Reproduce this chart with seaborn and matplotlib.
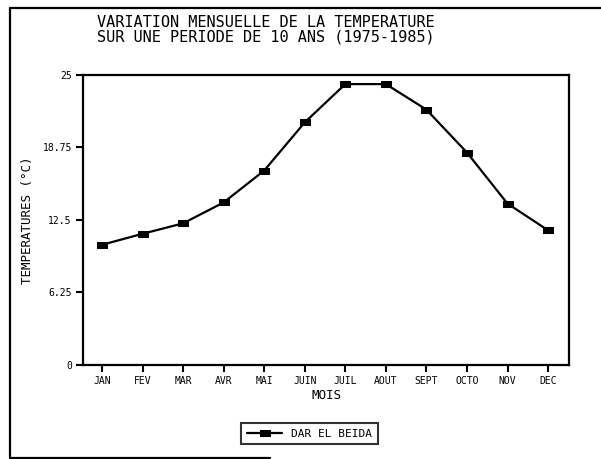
import numpy as np
import pandas as pd
import seaborn as sns
import matplotlib.pyplot as plt
from matplotlib.lines import Line2D

# Data
mois = ["JAN", "FEV", "MAR", "AVR", "MAI", "JUIN",
        "JUIL", "AOUT", "SEPT", "OCTO", "NOV", "DEC"]
temperatures = [10.35, 11.3, 12.2, 14.0, 16.75, 20.9,
                24.2, 24.2, 22.0, 18.3, 13.9, 11.6]
station = "DAR EL BEIDA"
y_ticks = [0, 6.25, 12.5, 18.75, 25]
y_labels = ["0", "6.25", "12.5", "18.75", "25"]

df = pd.DataFrame({"x": np.arange(len(mois)), "temp": temperatures,
                   "station": station})

sns.set_style("ticks")
plt.rcParams['font.family'] = ['DejaVu Sans Mono']
plt.rcParams['text.color'] = 'black'
plt.rcParams['axes.labelcolor'] = 'black'
plt.rcParams['xtick.color'] = 'black'
plt.rcParams['ytick.color'] = 'black'

fig = plt.figure(figsize=(6.01, 4.59), dpi=100)
ax = fig.add_axes([0.138, 0.205, 0.809, 0.632])

# flat rectangular marker like the printer's dots
rect_marker = [(-1, -0.55), (1, -0.55), (1, 0.55), (-1, 0.55), (-1, -0.55)]
sns.lineplot(data=df, x="x", y="temp", hue="station", palette=["black"],
             marker=rect_marker, markersize=7, linewidth=1.6,
             markeredgecolor="black", ax=ax)

ax.set_xlim(-0.47, 11.52)
ax.set_ylim(0, 25)
ax.set_xticks(range(len(mois)))
ax.set_xticklabels(mois, fontsize=7)
ax.set_yticks(y_ticks)
ax.set_yticklabels(y_labels, fontsize=7)
ax.tick_params(direction="out", length=5, width=1.5, pad=3)
for s in ax.spines.values():
    s.set_linewidth(1.6)
    s.set_color("black")

ax.set_xlabel("MOIS", fontsize=9, labelpad=2)
ax.set_ylabel("TEMPERATURES (°C)", fontsize=9, labelpad=6)

fig.text(0.443, 0.935, "VARIATION MENSUELLE DE LA TEMPERATURE\nSUR UNE PERIODE DE 10 ANS (1975-1985)",
         ha="center", va="center", fontsize=11, linespacing=0.95)

ax.legend(loc="center", bbox_to_anchor=(0.515, 0.055),
          bbox_transform=fig.transFigure, frameon=True, fancybox=False,
          edgecolor="black", fontsize=8, handlelength=3.2,
          borderpad=0.5, markerscale=1.0)
ax.get_legend().get_frame().set_linewidth(1.5)

# outer frame of the page
fig.add_artist(Line2D([0.017, 0.017], [0.003, 0.982], color="black", lw=1.6))
fig.add_artist(Line2D([0.017, 1.0], [0.982, 0.982], color="black", lw=1.6))
fig.add_artist(Line2D([0.017, 0.45], [0.003, 0.003], color="black", lw=1.6))

fig.savefig("out.png", dpi=100)
